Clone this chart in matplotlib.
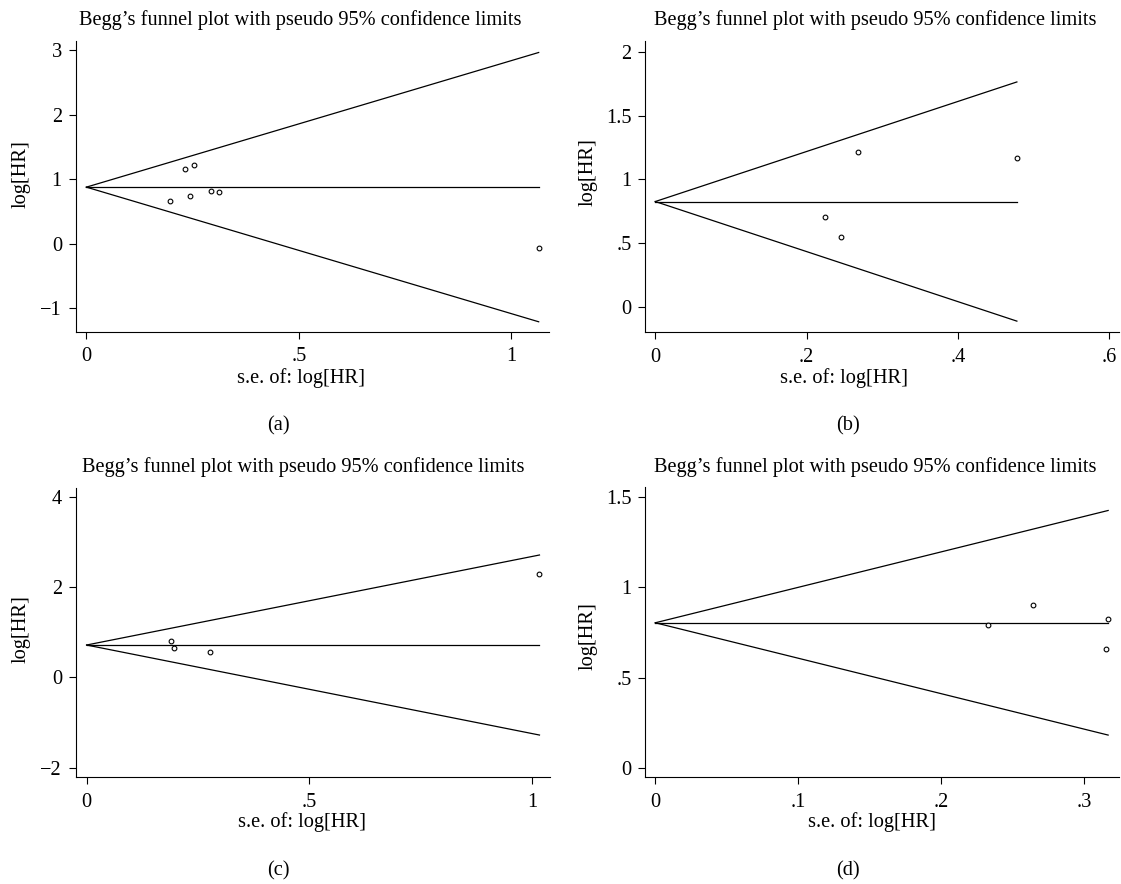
"""Begg's funnel plots, four panels (a)-(d)."""

import matplotlib.pyplot as plt

plt.rcParams['font.family'] = ['Liberation Serif', 'DejaVu Serif']
plt.rcParams['font.size'] = 14.7

W, H = 1121, 884

TITLE = "Begg\u2019s funnel plot with pseudo 95% confidence limits"
XLABEL = 's.e. of: log[HR]'
YLABEL = 'log[HR]'

# Panel (a)
se_a = [0.196, 0.233, 0.253, 0.244, 0.292, 0.311, 1.064]
loghr_a = [0.663, 1.150, 1.218, 0.736, 0.813, 0.808, -0.067]
pooled_a = 0.876
xticks_a = [0, 0.5, 1]
xticklabels_a = ['0', '.5', '1']
yticks_a = [-1, 0, 1, 2, 3]
yticklabels_a = ['\u22121', '0', '1', '2', '3']

# Panel (b)
se_b = [0.2246, 0.246, 0.268, 0.478]
loghr_b = [0.708, 0.547, 1.216, 1.164]
pooled_b = 0.826
xticks_b = [0, 0.2, 0.4, 0.6]
xticklabels_b = ['0', '.2', '.4', '.6']
yticks_b = [0, 0.5, 1, 1.5, 2]
yticklabels_b = ['0', '.5', '1', '1.5', '2']

# Panel (c)
se_c = [0.189, 0.197, 0.277, 1.017]
loghr_c = [0.797, 0.642, 0.554, 2.288]
pooled_c = 0.716
xticks_c = [0, 0.5, 1]
xticklabels_c = ['0', '.5', '1']
yticks_c = [-2, 0, 2, 4]
yticklabels_c = ['\u22122', '0', '2', '4']

# Panel (d)
se_d = [0.233, 0.264, 0.3168, 0.315]
loghr_d = [0.792, 0.903, 0.824, 0.656]
pooled_d = 0.803
xticks_d = [0, 0.1, 0.2, 0.3]
xticklabels_d = ['0', '.1', '.2', '.3']
yticks_d = [0, 0.5, 1, 1.5]
yticklabels_d = ['0', '.5', '1', '1.5']


def px_axes(fig, left, top, right, bottom):
    return fig.add_axes([left / W, 1 - bottom / H, (right - left) / W, (bottom - top) / H])


def ftext(fig, x, y, s, **kw):
    fig.text(x / W, 1 - y / H, s, **kw)


def funnel(ax, se, loghr, pooled, xlim, ylim, xticks, xtl, yticks, ytl):
    smax = max(se)
    ax.plot([0, smax], [pooled, pooled + 1.96 * smax], color='black', lw=0.9)
    ax.plot([0, smax], [pooled, pooled - 1.96 * smax], color='black', lw=0.9)
    ax.plot([0, smax], [pooled, pooled], color='black', lw=0.9)
    ax.plot(se, loghr, 'o', mfc='white', mec='black', ms=3.4, mew=0.8, zorder=3)
    ax.set_xlim(*xlim)
    ax.set_ylim(*ylim)
    ax.set_xticks(xticks)
    ax.set_xticklabels(xtl)
    ax.set_yticks(yticks)
    ax.set_yticklabels(ytl)
    for s in ['top', 'right']:
        ax.spines[s].set_visible(False)
    for s in ['left', 'bottom']:
        ax.spines[s].set_linewidth(0.8)
    ax.tick_params(direction='out', length=4.8, width=0.8, labelsize=14.7)
    ax.tick_params(axis='x', pad=6.5)
    ax.tick_params(axis='y', pad=5)
    ax.set_facecolor('none')


fig = plt.figure(figsize=(W / 100, H / 100), dpi=100)

ax_a = px_axes(fig, 75.5, 40.7, 549.3, 331.5)
funnel(ax_a, se_a, loghr_a, pooled_a, (-0.0256, 1.089), (-1.36, 3.144),
       xticks_a, xticklabels_a, yticks_a, yticklabels_a)

ax_b = px_axes(fig, 645.3, 40.7, 1119, 332.0)
funnel(ax_b, se_b, loghr_b, pooled_b, (-0.0132, 0.613), (-0.196, 2.086),
       xticks_b, xticklabels_b, yticks_b, yticklabels_b)

ax_c = px_axes(fig, 75.5, 487.5, 549.5, 777.3)
funnel(ax_c, se_c, loghr_c, pooled_c, (-0.0249, 1.0395), (-2.213, 4.204),
       xticks_c, xticklabels_c, yticks_c, yticklabels_c)

ax_d = px_axes(fig, 645.3, 487.5, 1119, 777.3)
funnel(ax_d, se_d, loghr_d, pooled_d, (-0.007, 0.3244), (-0.0514, 1.551),
       xticks_d, xticklabels_d, yticks_d, yticklabels_d)

# titles, axis titles and panel letters placed like the Stata export
for x, y in [(300, 25), (875, 25), (303, 471.7), (875, 471.7)]:
    ftext(fig, x, y, TITLE, ha='center', va='baseline')
for x, y in [(301, 382.7), (844, 382.7), (302, 827.3), (872, 827.3)]:
    ftext(fig, x, y, XLABEL, ha='center', va='baseline')
for x, y in [(20.7, 174), (588, 172.5), (20.7, 629), (588, 635.7)]:
    ftext(fig, x, y, YLABEL, ha='center', va='center', rotation=90)
for x, y, s in [(278.3, 430.7, '(a)'), (847.8, 430.7, '(b)'),
                (278.3, 875, '(c)'), (847.8, 875, '(d)')]:
    ftext(fig, x, y, s, ha='center', va='baseline')

fig.savefig('out.png', dpi=100)
